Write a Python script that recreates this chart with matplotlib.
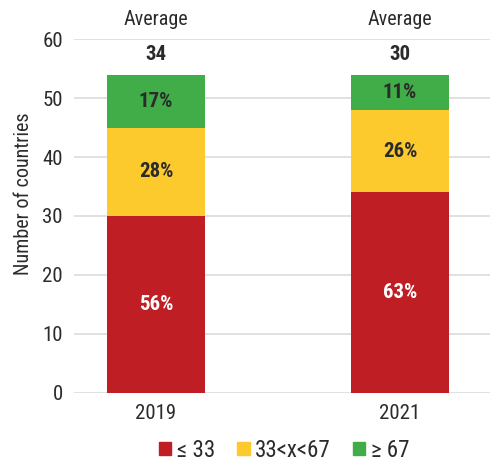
import matplotlib.pyplot as plt
from matplotlib.patches import Patch

plt.rcParams['font.family'] = ['Roboto Condensed', 'DejaVu Sans']
plt.rcParams['font.stretch'] = 'condensed'

years = ['2019', '2021']
low = [30, 34]        # <= 33
mid = [15, 14]        # 33 < x < 67
high = [9, 6]         # >= 67
low_pct = ['56%', '63%']
mid_pct = ['28%', '26%']
high_pct = ['17%', '11%']
averages = ['34', '30']
legend_labels = ['≤ 33', '33<x<67', '≥ 67']

red = '#BE1E24'
yellow = '#FDCA2D'
green = '#41AD49'
dark = '#2b2b2b'

fig = plt.figure(figsize=(4.9, 4.66), dpi=100)
ax = fig.add_axes([0.151, 0.157, 0.849, 0.759])

x = list(range(len(years)))
w = 0.40
bottoms_mid = low
bottoms_high = [a + b for a, b in zip(low, mid)]

ax.bar(x, low, w, color=red, zorder=3)
ax.bar(x, mid, w, bottom=bottoms_mid, color=yellow, zorder=3)
ax.bar(x, high, w, bottom=bottoms_high, color=green, zorder=3)

lab = dict(ha='center', va='center', fontsize=15, fontweight='bold', zorder=4)
for i in x:
    ax.text(i, low[i] / 2, low_pct[i], color='white', **lab)
    ax.text(i, bottoms_mid[i] + mid[i] / 2, mid_pct[i], color=dark, **lab)
    ax.text(i, bottoms_high[i] + high[i] / 2, high_pct[i], color=dark, **lab)
    top = bottoms_high[i] + high[i]
    ax.text(i, top + 3.4, averages[i], color=dark, **lab)
    ax.text(i, top + 9.3, 'Average', ha='center', va='center',
            color=dark, fontsize=14.5, clip_on=False)

ax.set_xlim(-0.336, 1.369)
ax.set_ylim(0, 60)
ax.set_yticks(range(0, 61, 10))
ax.set_xticks(x)
ax.set_xticklabels(years)
ax.tick_params(length=0, labelsize=15, colors=dark, pad=8)
ax.grid(axis='y', color='#dedede', linewidth=1.3, zorder=0)
for s in ax.spines.values():
    s.set_visible(False)
ax.set_ylabel('Number of countries', fontsize=14.5, color=dark)
ax.yaxis.set_label_coords(-0.098, 0.562)

handles = [Patch(color=c) for c in (red, yellow, green)]
fig.legend(handles, legend_labels, loc='center', bbox_to_anchor=(0.58, 0.034),
           ncol=3, frameon=False, fontsize=16.5, handlelength=0.55, handleheight=0.55,
           handletextpad=0.25, columnspacing=0.95, labelcolor=dark)

fig.savefig('out.png', dpi=100)
